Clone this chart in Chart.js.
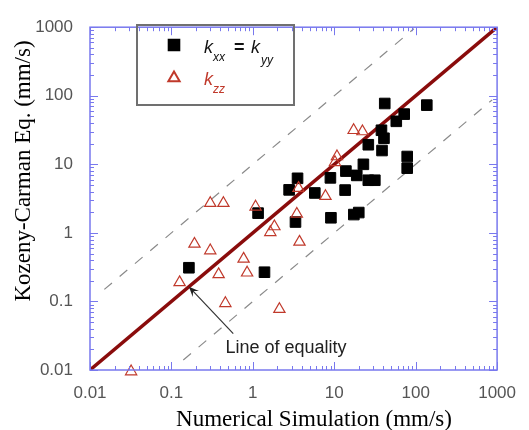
<!DOCTYPE html>
<html>
<head>
<meta charset="utf-8">
<script src="https://cdn.jsdelivr.net/npm/chart.js@4.4.1/dist/chart.umd.min.js"></script>
<style>
    html, body { margin: 0; padding: 0; background: #fff; }
</style>
</head>
<body>
<canvas id="chart" width="529" height="430"></canvas>
<script>
// k_xx = k_yy (squares): numerical simulation vs Kozeny-Carman
const kxxSim = [0.164, 1.16, 1.39, 3.34, 2.79, 3.54, 5.77, 8.97, 9.1, 13.9, 13.6, 18.9, 17.4, 20.0,
    22.8, 26.2, 26.2, 31.5, 38.0, 40.8, 38.6, 41.7, 57.8, 72.3, 78.7, 78.7, 137];
const kxxKC = [0.31, 1.94, 0.267, 1.44, 4.24, 6.25, 3.82, 6.35, 1.66, 7.97, 4.21, 6.89, 1.85, 1.98,
    10.0, 19.3, 5.86, 5.86, 31.4, 24.0, 15.9, 77.1, 42.4, 54.0, 13.0, 8.79, 73.0];

// k_zz (open triangles)
const kzzSim = [0.032, 0.126, 0.192, 0.30, 0.435, 0.30, 0.38, 0.46, 0.77, 0.85, 1.08, 1.64, 1.84,
    2.12, 3.47, 3.64, 3.74, 7.8, 10.2, 10.8, 17.3, 22.2];
const kzzKC = [0.0095, 0.19, 0.69, 2.71, 2.71, 0.552, 0.248, 0.094, 0.417, 0.262, 2.40, 1.02, 1.24,
    0.077, 1.89, 4.49, 0.74, 3.43, 10.7, 13.0, 31.4, 30.1];

// reference lines
const equalityX = [0.01, 1000];
const upperBandX = [0.015, 95];    // y = 10x
const lowerBandX = [0.14, 870];    // y = x/10

const majorTicks = [0.01, 0.1, 1, 10, 100, 1000];
const tickLabels = ['0.01', '0.1', '1', '10', '100', '1000'];

document.addEventListener('DOMContentLoaded', function() {
    const axisBlue = '#7878ee';
    const darkRed = '#8a0c0c';
    const triRed = '#c0392b';

    // minor ticks at 2..9 of every decade
    const allTicks = [];
    majorTicks.forEach((v, i) => {
        allTicks.push(v);
        if (i < majorTicks.length - 1) {
            for (let m = 2; m <= 9; m++) allTicks.push(v * m);
        }
    });

    function labelFor(value) {
        const i = majorTicks.findIndex(v => Math.abs(v - value) / v < 1e-6);
        return i >= 0 ? tickLabels[i] : '';
    }

    const pts = (xs, ys) => xs.map((x, i) => ({ x: x, y: ys[i] }));

    const decorations = {
        id: 'decorations',
        afterDatasetsDraw(chart) {
            const ctx = chart.ctx;
            const xs = chart.scales.x;
            const ys = chart.scales.y;
            const a = chart.chartArea;

            ctx.save();
            // inward ticks on all four sides
            ctx.strokeStyle = axisBlue;
            ctx.lineWidth = 1;
            allTicks.forEach(v => {
                const len = labelFor(v) ? 8 : 4;
                const px = Math.round(xs.getPixelForValue(v)) + 0.5;
                const py = Math.round(ys.getPixelForValue(v)) + 0.5;
                ctx.beginPath();
                ctx.moveTo(px, a.bottom); ctx.lineTo(px, a.bottom - len);
                ctx.moveTo(px, a.top); ctx.lineTo(px, a.top + len);
                ctx.moveTo(a.left, py); ctx.lineTo(a.left + len, py);
                ctx.moveTo(a.right, py); ctx.lineTo(a.right - len, py);
                ctx.stroke();
            });
            // frame
            ctx.lineWidth = 1.5;
            ctx.strokeRect(a.left, a.top, a.right - a.left, a.bottom - a.top);

            // legend box
            ctx.strokeStyle = '#707070';
            ctx.lineWidth = 2;
            ctx.strokeRect(137, 25, 157, 80);
            ctx.fillStyle = '#000';
            ctx.strokeStyle = '#000';
            Chart.helpers.drawPoint(ctx, { pointStyle: 'rect', radius: 7.5, rotation: 0, borderWidth: 1 }, 174, 45);
            ctx.fillStyle = 'rgba(0,0,0,0)';
            ctx.strokeStyle = triRed;
            Chart.helpers.drawPoint(ctx, { pointStyle: 'triangle', radius: 6.5, rotation: 0, borderWidth: 1.2 }, 174, 78);

            ctx.textAlign = 'left';
            ctx.textBaseline = 'alphabetic';
            ctx.fillStyle = '#111';
            ctx.font = 'italic 18px "Liberation Sans", Arial, sans-serif';
            ctx.fillText('k', 204, 53);
            ctx.fillText('k', 251, 53);
            ctx.font = 'bold 18px "Liberation Sans", Arial, sans-serif';
            ctx.fillText('=', 234, 53);
            ctx.font = 'italic 12px "Liberation Sans", Arial, sans-serif';
            ctx.fillText('xx', 213, 61);
            ctx.fillText('yy', 261, 64);
            ctx.fillStyle = triRed;
            ctx.font = 'italic 18px "Liberation Sans", Arial, sans-serif';
            ctx.fillText('k', 204, 85);
            ctx.font = 'italic 12px "Liberation Sans", Arial, sans-serif';
            ctx.fillText('zz', 213, 93);

            // "Line of equality" arrow
            const tipX = xs.getPixelForValue(0.164), tipY = ys.getPixelForValue(0.164);
            const tailX = xs.getPixelForValue(0.575), tailY = ys.getPixelForValue(0.034);
            const ang = Math.atan2(tipY - tailY, tipX - tailX);
            ctx.strokeStyle = '#333';
            ctx.fillStyle = '#222';
            ctx.lineWidth = 1.2;
            ctx.beginPath();
            ctx.moveTo(tailX, tailY);
            ctx.lineTo(tipX - 5 * Math.cos(ang), tipY - 5 * Math.sin(ang));
            ctx.stroke();
            ctx.beginPath();
            ctx.moveTo(tipX, tipY);
            ctx.lineTo(tipX - 11 * Math.cos(ang - 0.4), tipY - 11 * Math.sin(ang - 0.4));
            ctx.lineTo(tipX - 6 * Math.cos(ang), tipY - 6 * Math.sin(ang));
            ctx.lineTo(tipX - 11 * Math.cos(ang + 0.4), tipY - 11 * Math.sin(ang + 0.4));
            ctx.closePath();
            ctx.fill();

            ctx.font = '18px "Liberation Sans", Arial, sans-serif';
            ctx.textBaseline = 'middle';
            ctx.fillStyle = '#222';
            ctx.fillText('Line of equality', xs.getPixelForValue(0.46), ys.getPixelForValue(0.021));

            // axis titles
            ctx.fillStyle = '#000';
            ctx.font = '23px "Liberation Serif", "Times New Roman", serif';
            ctx.textAlign = 'center';
            ctx.textBaseline = 'alphabetic';
            ctx.fillText('Numerical Simulation (mm/s)', 314, 426);
            ctx.translate(30, 171);
            ctx.rotate(-Math.PI / 2);
            ctx.fillText('Kozeny-Carman Eq. (mm/s)', 0, 0);
            ctx.restore();
        }
    };

    const logAxis = (pos) => ({
        type: 'logarithmic',
        position: pos,
        min: 0.01,
        max: 1000,
        grid: { display: false, drawTicks: false },
        border: { display: false },
        afterBuildTicks: s => { s.ticks = allTicks.map(v => ({ value: v })); },
        ticks: {
            autoSkip: false,
            maxRotation: 0,
            padding: pos === 'left' ? 17 : 13,
            color: '#555',
            font: { family: '"Liberation Sans", Arial, sans-serif', size: 17 },
            callback: v => labelFor(v)
        },
        afterFit: s => {
            if (pos === 'left') s.width = 90; else s.height = 60;
        }
    });

    new Chart(document.getElementById('chart').getContext('2d'), {
        type: 'scatter',
        data: {
            datasets: [
                {
                    label: 'k_zz',
                    data: pts(kzzSim, kzzKC),
                    pointStyle: 'triangle',
                    radius: 6.5,
                    borderColor: triRed,
                    backgroundColor: 'rgba(0,0,0,0)',
                    borderWidth: 1.2,
                    clip: false,
                    order: 1
                },
                {
                    label: 'k_xx = k_yy',
                    data: pts(kxxSim, kxxKC),
                    pointStyle: 'rect',
                    radius: 7.5,
                    borderColor: '#000',
                    backgroundColor: '#000',
                    borderWidth: 1,
                    order: 2
                },
                {
                    type: 'line',
                    data: pts(equalityX, equalityX),
                    borderColor: darkRed,
                    borderWidth: 3.5,
                    pointRadius: 0,
                    order: 3
                },
                {
                    type: 'line',
                    data: pts(upperBandX, upperBandX.map(v => v * 10)),
                    borderColor: '#8a8a8a',
                    borderWidth: 1.2,
                    borderDash: [10, 10],
                    pointRadius: 0,
                    order: 4
                },
                {
                    type: 'line',
                    data: pts(lowerBandX, lowerBandX.map(v => v / 10)),
                    borderColor: '#8a8a8a',
                    borderWidth: 1.2,
                    borderDash: [10, 10],
                    pointRadius: 0,
                    order: 4
                }
            ]
        },
        options: {
            responsive: false,
            animation: false,
            layout: { padding: { top: 15, right: 27, left: 0, bottom: 0 } },
            plugins: {
                legend: { display: false },
                tooltip: { enabled: false }
            },
            scales: {
                x: logAxis('bottom'),
                y: logAxis('left')
            }
        },
        plugins: [decorations]
    });
});
</script>
</body>
</html>
